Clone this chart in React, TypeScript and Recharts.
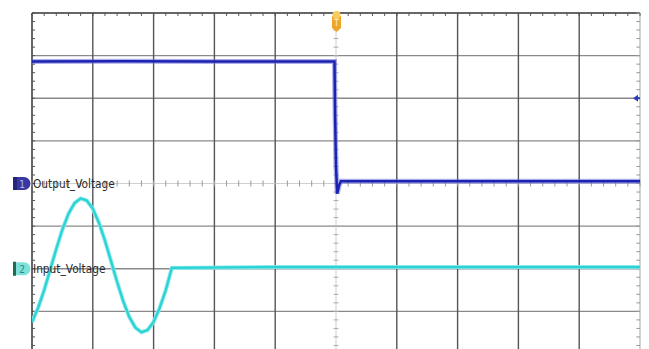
import { LineChart, Line, XAxis, YAxis, ReferenceLine, ReferenceDot } from 'recharts';

// time in divisions (0..10), voltage in divisions (-4..4), screen centre = (5, 0)
const timeDivs = [0, 1, 2, 3, 4, 5, 6, 7, 8, 9, 10];
const voltDivs = [-4, -3, -2, -1, 0, 1, 2, 3, 4];
const minorStep = 0.2;

const outputTime = [0, 1.5, 3, 4.5, 4.975, 4.985, 5.0, 5.02, 5.05, 5.08, 6, 8, 10];
const outputVolt = [2.86, 2.87, 2.86, 2.86, 2.86, 1.6, 0.4, -0.24, -0.05, 0.05, 0.05, 0.05, 0.05];

const inputTime = [0, 0.1, 0.2, 0.3, 0.4, 0.5, 0.6, 0.7, 0.8, 0.9, 1.0, 1.1, 1.2, 1.3, 1.4, 1.5, 1.6, 1.7, 1.8, 1.9, 2.0, 2.1, 2.2, 2.3, 4, 6, 8, 10];
const inputVolt = [-3.25, -2.92, -2.5, -2.02, -1.53, -1.08, -0.71, -0.46, -0.35, -0.4, -0.59, -0.92, -1.34, -1.82, -2.31, -2.76, -3.13, -3.38, -3.49, -3.44, -3.25, -2.92, -2.5, -1.98, -1.96, -1.96, -1.96, -1.96];

const ch1Offset = 0;
const ch2Offset = -2;
const triggerTime = 5;
const triggerLevel = 2;

const outputData = outputTime.map((x, i) => ({ x, y: outputVolt[i] }));
const inputData = inputTime.map((x, i) => ({ x, y: inputVolt[i] }));

const minorX = Array.from({ length: 51 }, (_, i) => +(i * minorStep).toFixed(2));
const minorY = Array.from({ length: 41 }, (_, i) => +(-4 + i * minorStep).toFixed(2));

const labelFont = '"DejaVu Sans Condensed", "DejaVu Sans", sans-serif';

const Ch1Marker = (p: any) => {
  const { cx, cy } = p;
  return (
    <g>
      <path d={`M${cx - 19},${cy - 6.5} H${cx - 8} A6.5,6.5 0 0 1 ${cx - 8},${cy + 6.5} H${cx - 19} Z`} fill="#3838a2" />
      <rect x={cx - 19} y={cy - 6.5} width={4} height={13} fill="#25257a" />
      <text x={cx - 10} y={cy + 4} fontSize={10} fill="#b8b8ee" fontFamily={labelFont} textAnchor="middle">1</text>
      <text x={cx + 1} y={cy + 4} fontSize={11.8} fill="#2a2a2a" fontFamily={labelFont}>Output_Voltage</text>
    </g>
  );
};

const Ch2Marker = (p: any) => {
  const { cx, cy } = p;
  return (
    <g>
      <rect x={cx - 19} y={cy - 7} width={3} height={14} fill="#1f6a55" />
      <path d={`M${cx - 16},${cy - 6.5} H${cx - 8} A6.5,6.5 0 0 1 ${cx - 8},${cy + 6.5} H${cx - 16} Z`} fill="#7fe0da" />
      <text x={cx - 10} y={cy + 4} fontSize={10} fill="#2a8a8a" fontFamily={labelFont} textAnchor="middle">2</text>
      <text x={cx + 1} y={cy + 4} fontSize={11.8} fill="#2a2a2a" fontFamily={labelFont}>Input_Voltage</text>
    </g>
  );
};

const TrigMarker = (p: any) => {
  const { cx, cy } = p;
  return (
    <g>
      <path d={`M${cx - 4},${cy + 3} H${cx + 5} V${cy + 15} L${cx + 0.5},${cy + 19} L${cx - 4},${cy + 15} Z`} fill="#eea62a" />
      <circle cx={cx + 0.5} cy={cy + 2} r={4} fill="#f7cc5a" />
      <text x={cx + 0.5} y={cy + 13} fontSize={9} fill="#fff2c8" fontFamily={labelFont} textAnchor="middle">T</text>
    </g>
  );
};

const LevelMarker = (p: any) => {
  const { cx, cy } = p;
  return (
    <g>
      <path d={`M${cx - 7},${cy} L${cx - 2},${cy - 3.5} L${cx - 2},${cy + 3.5} Z`} fill="#2b3cbf" />
      <line x1={cx - 3} y1={cy} x2={cx} y2={cy} stroke="#2b3cbf" strokeWidth={2} />
    </g>
  );
};

export default function App() {
  return (
    <div style={{ position: 'absolute', left: 0, top: 0, width: 649, height: 349, overflow: 'hidden', background: '#fff' }}>
      <LineChart width={649} height={354} margin={{ top: 13, right: 9, bottom: 0, left: 32 }}>
        <XAxis type="number" dataKey="x" domain={[0, 10]} hide allowDataOverflow />
        <YAxis type="number" dataKey="y" domain={[-4, 4]} hide allowDataOverflow />

        {voltDivs.filter((v) => v !== 0 && v !== 4).map((v) => (
          <ReferenceLine key={`h${v}`} y={v} stroke="#8a8a8a" strokeWidth={1.3} />
        ))}
        {timeDivs.filter((t) => t !== 5 && t !== 0 && t !== 10).map((t) => (
          <ReferenceLine key={`v${t}`} x={t} stroke="#555" strokeWidth={1.4} />
        ))}
        <ReferenceLine y={0} stroke="#cfcfcf" strokeWidth={1} />
        <ReferenceLine x={triggerTime} stroke="#cfcfcf" strokeWidth={1} />
        <ReferenceLine y={4} stroke="#333" strokeWidth={1.5} />
        <ReferenceLine x={0} stroke="#333" strokeWidth={1.5} />
        <ReferenceLine x={10} stroke="#b5b5b5" strokeWidth={1.2} />

        {minorX.map((t) => (
          <ReferenceLine key={`tt${t}`} segment={[{ x: t, y: 4 }, { x: t, y: 3.93 }]} stroke="#555" strokeWidth={1} />
        ))}
        {minorX.map((t) => (
          <ReferenceLine key={`tc${t}`} segment={[{ x: t, y: 0.07 }, { x: t, y: -0.07 }]} stroke="#999" strokeWidth={1} />
        ))}
        {minorY.map((v) => (
          <ReferenceLine key={`tl${v}`} segment={[{ x: 0, y: v }, { x: 0.05, y: v }]} stroke="#555" strokeWidth={1} />
        ))}
        {minorY.map((v) => (
          <ReferenceLine key={`tm${v}`} segment={[{ x: 4.96, y: v }, { x: 5.04, y: v }]} stroke="#aaa" strokeWidth={1} />
        ))}
        {minorY.map((v) => (
          <ReferenceLine key={`tr${v}`} segment={[{ x: 9.94, y: v }, { x: 10, y: v }]} stroke="#999" strokeWidth={1} />
        ))}

        <Line data={inputData} dataKey="y" type="linear" stroke="#8ae8e8" strokeWidth={4} dot={false} isAnimationActive={false} />
        <Line data={inputData} dataKey="y" type="linear" stroke="#2ad3d6" strokeWidth={2.2} dot={false} isAnimationActive={false} />
        <Line data={outputData} dataKey="y" type="linear" stroke="#6a6ad8" strokeWidth={5} strokeOpacity={0.55} dot={false} isAnimationActive={false} />
        <Line data={outputData} dataKey="y" type="linear" stroke="#1c22b0" strokeWidth={2.5} dot={false} isAnimationActive={false} />

        <ReferenceDot x={0} y={ch1Offset} r={0} ifOverflow="visible" shape={Ch1Marker} />
        <ReferenceDot x={0} y={ch2Offset} r={0} ifOverflow="visible" shape={Ch2Marker} />
        <ReferenceDot x={triggerTime} y={4} r={0} ifOverflow="visible" shape={TrigMarker} />
        <ReferenceDot x={10} y={triggerLevel} r={0} ifOverflow="visible" shape={LevelMarker} />
      </LineChart>
    </div>
  );
}
